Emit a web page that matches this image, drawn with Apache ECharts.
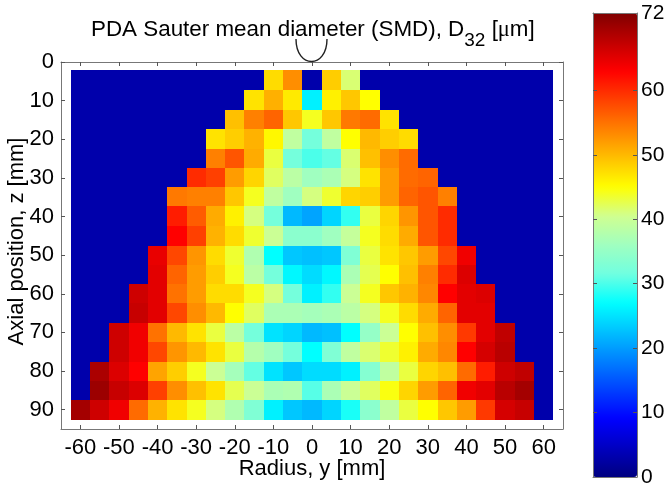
<!DOCTYPE html>
<html>
<head>
<meta charset="utf-8">
<style>html,body{margin:0;padding:0;background:#fff}#c{width:669px;height:490px}</style>
<script src="https://cdn.jsdelivr.net/npm/echarts@6/dist/echarts.min.js"></script>
</head>
<body>
<div id="c"></div>
<script>
const radius = [-60,-55,-50,-45,-40,-35,-30,-25,-20,-15,-10,-5,0,5,10,15,20,25,30,35,40,45,50,55,60];
const axialEdges = [2.1,7.2,12.3,17.35,22.4,27.4,32.4,37.4,42.4,47.5,52.5,57.5,62.5,67.6,72.6,77.6,82.6,87.6,92.6];
const radiusTicks = [-60,-50,-40,-30,-20,-10,0,10,20,30,40,50,60];
const axialTicks = [0,10,20,30,40,50,60,70,80,90];
const barTicks = [10,20,30,40,50,60];
const barLabels = [0,10,20,30,40,50,60,72];
const ramp = ['#000080','#0000c0','#0000ff','#0040ff','#0080ff','#00c0ff','#00ffff','#70ffe0','#a0ffc0','#d0ff90','#ffff00','#ffc000','#ff8000','#ff4000','#ff0000','#c00000','#800000'];
const B = 3; // blue field outside the measured region
const smd = [
[B,B,B,B,B,B,B,B,B,B,47.5,53,B,48.6,41.4,B,B,B,B,B,B,B,B,B,B],
[B,B,B,B,B,B,B,B,B,47,50.6,46.5,26,46,49,45,B,B,B,B,B,B,B,B,B],
[B,B,B,B,B,B,B,B,49.5,54,56,49,44,49,54.5,55.5,47,B,B,B,B,B,B,B,B],
[B,B,B,B,B,B,B,47,48.5,50.5,45.5,39,32,39,45,50,48.5,47.5,B,B,B,B,B,B,B],
[B,B,B,B,B,B,B,54,57,51,43,32,30,31,41.5,49.5,53,55.5,B,B,B,B,B,B,B],
[B,B,B,B,B,B,60,58.5,52,48,42,38.5,36,37,41,47,52,55.5,56,B,B,B,B,B,B],
[B,B,B,B,B,54.5,54,54,49,44,39,36,41,43.5,48,48.5,52,56,57,54,B,B,B,B,B],
[B,B,B,B,B,61,56.5,51,46,41,32,22,20.5,24,29,43,48,52.5,57,60,B,B,B,B,B],
[B,B,B,B,B,63,58.5,50.5,47.5,43.5,40,34,34,36,39.5,44,47.5,51,57,60,B,B,B,B,B],
[B,B,B,B,64.6,58,52.5,47.5,43.5,37.5,27,23,22.5,23,33,43,47,49,52,58,64,B,B,B,B],
[B,B,B,B,65,56,52,48.5,44,38.5,32,26.5,24.5,26.5,37,42.5,45,49.5,54,60,65.5,B,B,B,B],
[B,B,B,66.5,65,55,52,47.5,47.5,44,41,32,26,29,40,44,49,50.5,53.5,63,65,65.5,B,B,B],
[B,B,B,67,65,58,53,50,45,42,37,37,36.5,37,38.5,41,44,47.5,51,56,65,65,B,B,B],
[B,B,66.5,64,55,50,47,43,38.5,32,25,24,22,22.5,27,35,40,45,49.5,53,59,65,67.5,B,B],
[B,B,66.5,64,58,52.5,50,47,43,38,36,32,27,33,39,41.5,43.5,46,51,53.5,63,66,68,B,B],
[B,69,65.5,63,51.5,48.5,44,40,36.5,31,25,23,24.5,24.5,26,33.5,39,43,48,49.5,55.5,61,66.5,67.5,B],
[B,70,67,65.5,58.5,53,49.5,47,42.5,40,37,37.5,30.5,37,40,42,44.5,48,52,56,64,65,68,69.5,B],
[69.5,66.5,64,55.5,50.5,47,44,41,37.5,33,26,23,22,24,28,34,39,43,45,49,52,59,66,67,B]
];

const cells = [];
smd.forEach((row, r) => row.forEach((v, c) => cells.push([radius[c], axialEdges[r], axialEdges[r+1], v])));

const font = '"Liberation Sans", Arial, sans-serif';
const frame = '#777', tick = '#555';
const lbl = {fontFamily: font, fontSize: 22, color: '#000'};

function ax(gridIndex, position, ticks, min, max, showLabel, extra) {
  return Object.assign({type:'value', gridIndex, position, min, max, z:10,
    axisLine:{show:true, onZero:false, lineStyle:{color:frame, width:1}},
    axisTick:{show:!!ticks, inside:true, length:4, customValues:ticks||undefined, lineStyle:{color:tick, width:1}},
    axisLabel:showLabel?Object.assign({show:true, margin:7, customValues:ticks, hideOverlap:false}, lbl):{show:false},
    splitLine:{show:false}}, extra||{});
}

const chart = echarts.init(document.getElementById('c'), null, {renderer:'canvas', width:669, height:490});
chart.setOption({
  animation:false,
  backgroundColor:'#fff',
  title:{
    text:'{a|PDA Sauter mean diameter (SMD), D}{s|32}{a| [}{m|μ}{a|m]}',
    left:91, top:19, padding:0,
    textStyle:{fontWeight:'normal', rich:{
      a:{fontFamily:font, fontSize:22.4, fontWeight:'normal', color:'#000', lineHeight:26, verticalAlign:'top'},
      s:{fontFamily:font, fontSize:19, fontWeight:'normal', color:'#000', lineHeight:26, padding:[12,0,0,0], verticalAlign:'top'},
      m:{fontFamily:'"Liberation Serif", serif', fontSize:22.4, fontWeight:'normal', color:'#000', lineHeight:26, verticalAlign:'top'}
    }}
  },
  grid:[
    {left:61, top:62, width:502, height:367, outerBoundsMode:'none', containLabel:false},
    {left:593, top:13, width:44, height:464, outerBoundsMode:'none', containLabel:false}
  ],
  xAxis:[
    ax(0,'bottom',radiusTicks,-65,65,true,{name:'Radius, y [mm]', nameLocation:'middle', nameGap:29, nameMoveOverlap:false, nameTextStyle:lbl, axisLabel:Object.assign({show:true, margin:8, customValues:radiusTicks, hideOverlap:false}, lbl)}),
    ax(0,'top',radiusTicks,-65,65,false),
    ax(1,'bottom',null,0,1,false),
    ax(1,'top',null,0,1,false)
  ],
  yAxis:[
    ax(0,'left',axialTicks,0,95,true,{inverse:true, name:'Axial position, z [mm]', nameLocation:'middle', nameGap:33, nameMoveOverlap:false, nameTextStyle:Object.assign({}, lbl, {padding:[0,0,0,8]})}),
    ax(0,'right',axialTicks,0,95,false,{inverse:true}),
    ax(1,'left',barTicks,0,72,false),
    Object.assign(ax(1,'right',barTicks,0,72,false),{axisLabel:Object.assign({show:true, margin:4, customValues:barLabels, hideOverlap:false}, lbl, {fontSize:21})})
  ],
  visualMap:{
    type:'continuous', min:0, max:72, dimension:3, seriesIndex:0,
    left:593, top:13, itemWidth:44, itemHeight:464, padding:0,
    text:null, showLabel:false, calculable:false, hoverLink:false,
    inRange:{color:ramp}, textStyle:{fontSize:0, color:'transparent'}
  },
  series:[{
    type:'custom',
    coordinateSystem:'cartesian2d',
    xAxisIndex:0, yAxisIndex:0,
    encode:{x:0, y:[1,2]},
    data:cells,
    clip:true,
    renderItem(params, api){
      const x=api.value(0);
      const a=api.coord([x-2.5,api.value(1)]), b=api.coord([x+2.5,api.value(2)]);
      const x0=Math.round(a[0]), y0=Math.round(a[1]);
      return {type:'rect', shape:{x:x0, y:y0, width:Math.round(b[0])-x0, height:Math.round(b[1])-y0},
        style:{fill:api.visual('color'), stroke:null}};
    }
  }],
  graphic:[{
    type:'bezierCurve', z:20, silent:true,
    shape:{x1:296, y1:39, x2:327, y2:39, cpx1:296, cpy1:69, cpx2:327, cpy2:69},
    style:{fill:null, stroke:'#222', lineWidth:1.4}
  }]
});
</script>
</body>
</html>
